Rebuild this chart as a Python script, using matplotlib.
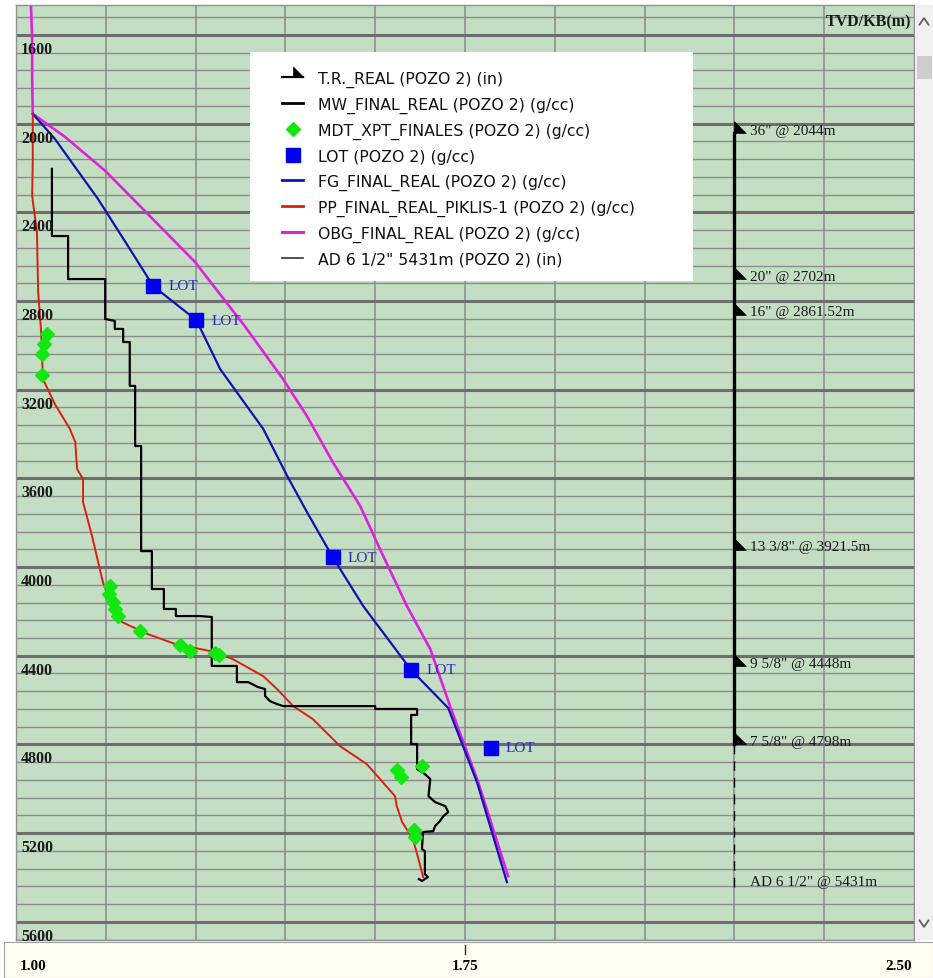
import numpy as np
import matplotlib.pyplot as plt
from matplotlib.lines import Line2D
from matplotlib.patches import Rectangle
from matplotlib.path import Path
import matplotlib.transforms as mtransforms

# ---- datos (densidad g/cc vs TVD m) ----
obg_val = [1.025, 1.027, 1.027, 1.028, 1.082, 1.149, 1.220, 1.299, 1.382, 1.446,
           1.486, 1.529, 1.575, 1.608, 1.653, 1.692, 1.725, 1.772, 1.822]
obg_tvd = [1465, 1618, 1798, 1956, 2060, 2213, 2407, 2624, 2913, 3152,
           3319, 3526, 3725, 3919, 4176, 4370, 4627, 4970, 5394]

fg_val = [1.028, 1.065, 1.137, 1.187, 1.229, 1.301, 1.311, 1.341, 1.413, 1.453,
          1.486, 1.529, 1.580, 1.660, 1.722, 1.770, 1.820]
fg_tvd = [1956, 2069, 2340, 2552, 2732, 2886, 2940, 3107, 3377, 3589,
          3752, 3955, 4176, 4464, 4636, 4970, 5421]

pp_val = [1.028, 1.028, 1.027, 1.035, 1.037, 1.042, 1.045, 1.065, 1.090, 1.099,
          1.102, 1.112, 1.112, 1.127, 1.145, 1.160, 1.177, 1.220, 1.266, 1.332,
          1.362, 1.413, 1.436, 1.463, 1.496, 1.541, 1.586, 1.608, 1.633, 1.636,
          1.645, 1.663, 1.671, 1.680]
pp_tvd = [1956, 2159, 2326, 2489, 2759, 2940, 3152, 3265, 3377, 3436,
          3558, 3603, 3707, 3860, 4067, 4176, 4248, 4302, 4347, 4383,
          4415, 4492, 4550, 4627, 4686, 4807, 4889, 4956, 5033, 5078,
          5150, 5227, 5304, 5398]

mw_val = [1.060, 1.060, 1.087, 1.087, 1.149, 1.149, 1.165, 1.165, 1.179, 1.179,
          1.190, 1.190, 1.199, 1.199, 1.209, 1.209, 1.227, 1.227, 1.247, 1.247,
          1.267, 1.267, 1.307, 1.327, 1.327, 1.369, 1.369, 1.388, 1.404, 1.416,
          1.416, 1.424, 1.436, 1.446, 1.600, 1.600, 1.670, 1.670, 1.660, 1.660,
          1.670, 1.670, 1.683, 1.692, 1.689, 1.700, 1.717, 1.722, 1.714, 1.708,
          1.700, 1.697, 1.680, 1.678, 1.683, 1.683, 1.688, 1.678, 1.673]
mw_tvd = [2204, 2507, 2507, 2701, 2701, 2881, 2890, 2926, 2926, 2985,
          2985, 3183, 3183, 3454, 3454, 3928, 3928, 4099, 4099, 4189,
          4189, 4221, 4221, 4225, 4446, 4446, 4519, 4519, 4541, 4550,
          4582, 4604, 4618, 4627, 4627, 4640, 4640, 4667, 4667, 4798,
          4798, 4911, 4934, 4956, 5033, 5060, 5078, 5105, 5123, 5146,
          5168, 5191, 5195, 5272, 5281, 5385, 5398, 5416, 5407]

mdt_val = [1.052, 1.047, 1.043, 1.043, 1.157, 1.155, 1.162, 1.165, 1.170, 1.207,
           1.274, 1.291, 1.332, 1.339, 1.636, 1.643, 1.678, 1.665, 1.666]
mdt_tvd = [2949, 2994, 3039, 3134, 4086, 4122, 4158, 4189, 4221, 4289,
           4352, 4379, 4388, 4397, 4916, 4947, 4898, 5186, 5218]

lot_val = [1.229, 1.301, 1.529, 1.660, 1.793]
lot_tvd = [2732, 2886, 3955, 4464, 4816]

shoe_tvd = [2044, 2702, 2861.52, 3921.5, 4448, 4798]
shoe_lbl = ['36" @ 2044m', '20" @ 2702m', '16" @ 2861.52m',
            '13 3/8" @ 3921.5m', '9 5/8" @ 4448m', '7 5/8" @ 4798m']
ad_tvd = 5431
ad_lbl = 'AD 6 1/2" @ 5431m'

depth_ticks = [1600, 2000, 2400, 2800, 3200, 3600, 4000, 4400, 4800, 5200, 5600]
x_labels = [1.00, 1.75, 2.50]

# ---- figura ----
W, H = 933, 979
fig = plt.figure(figsize=(W / 100, H / 100), dpi=100)
fig.patch.set_facecolor('white')

ax = fig.add_axes([16 / W, 1 - 941 / H, 898 / W, 935 / H])
ax.set_facecolor('#C4DEC4')
ax.set_xlim(1.0, 2.5)
ax.set_ylim(5682, 1465)

ax.set_xticks(np.arange(1.15, 2.40, 0.15))
ax.set_yticks(depth_ticks)
ax.set_yticks(np.arange(1520, 5682, 80), minor=True)
ax.tick_params(which='both', length=0, labelleft=False, labelbottom=False)
ax.grid(axis='x', color='#8a8a8a', lw=1.1)
ax.grid(axis='y', which='minor', color='#8c8c8c', lw=1.0)
ax.grid(axis='y', which='major', color='#6e6e6e', lw=2.2)
ax.set_axisbelow(True)
for s in ax.spines.values():
    s.set_color('#909090')
    s.set_linewidth(1)

c_fg = '#1212B4'
c_pp = '#D82010'
c_obg = '#DD22DD'
c_mdt = '#10E810'
c_lot = '#0000F0'

ax.plot(obg_val, obg_tvd, color=c_obg, lw=1.9)
ax.plot(fg_val, fg_tvd, color=c_fg, lw=1.6)
ax.plot(pp_val, pp_tvd, color=c_pp, lw=1.4)
ax.plot(mw_val, mw_tvd, color='black', lw=1.6)
ax.plot(mdt_val, mdt_tvd, ls='none', marker='D', ms=7.5, color=c_mdt, mec=c_mdt)
ax.plot(lot_val, lot_tvd, ls='none', marker='s', ms=9.5, color=c_lot, mec=c_lot)
for v, d in zip(lot_val, lot_tvd):
    ax.text(v + 0.025, d, 'LOT', color='#2828C0', fontsize=11,
            family='Liberation Serif', va='center', ha='left')

# casing / zapatas
x_tr = 2.2
shoe_mk = Path([(0, 0), (0, 1), (1, 0), (0, 0)])
ax.plot([x_tr, x_tr], [shoe_tvd[0], shoe_tvd[-1]], color='black', lw=2.4)
ax.plot([x_tr, x_tr], [shoe_tvd[-1], ad_tvd + 15], color='black', lw=1.0,
        dashes=(7, 5))
ax.plot([x_tr] * len(shoe_tvd), shoe_tvd, ls='none', marker=shoe_mk, ms=17,
        color='black', mew=0.5)
for d, t in zip(shoe_tvd, shoe_lbl):
    ax.text(x_tr + 0.026, d - 12, t, fontsize=11, family='Liberation Serif',
            color='#1a1a1a', va='center', ha='left')
ax.text(x_tr + 0.026, ad_tvd - 12, ad_lbl, fontsize=11, family='Liberation Serif',
        color='#1a1a1a', va='center', ha='left')

# etiquetas de profundidad dentro del track
ytr = mtransforms.blended_transform_factory(ax.transAxes, ax.transData)
for d in depth_ticks:
    ax.text(0.0056, d + 27, str(d), transform=ytr, fontsize=11.5,
            family='Liberation Serif', weight='bold', va='top', ha='left',
            color='#1a1a1a')
ax.text(0.997, 1537, 'TVD/KB(m)', transform=ytr, fontsize=11.5,
        family='Liberation Serif', weight='bold', va='center', ha='right',
        color='#1a1a1a')

# leyenda
ax.add_patch(Rectangle((0.2606, 0.7048), 0.4933, 0.2449, transform=ax.transAxes,
                       facecolor='white', edgecolor='none', zorder=4.5))
handles = [
    Line2D([], [], color='black', lw=1.6, marker=shoe_mk, ms=15, mew=0.5),
    Line2D([], [], color='black', lw=2),
    Line2D([], [], ls='none', marker='D', ms=7.5, color=c_mdt),
    Line2D([], [], ls='none', marker='s', ms=9.5, color=c_lot),
    Line2D([], [], color=c_fg, lw=2),
    Line2D([], [], color=c_pp, lw=2),
    Line2D([], [], color=c_obg, lw=2.2),
    Line2D([], [], color='#333333', lw=1.2),
]
labels = ['T.R._REAL (POZO 2) (in)',
          'MW_FINAL_REAL (POZO 2) (g/cc)',
          'MDT_XPT_FINALES (POZO 2) (g/cc)',
          'LOT (POZO 2) (g/cc)',
          'FG_FINAL_REAL (POZO 2) (g/cc)',
          'PP_FINAL_REAL_PIKLIS-1 (POZO 2) (g/cc)',
          'OBG_FINAL_REAL (POZO 2) (g/cc)',
          'AD 6 1/2" 5431m (POZO 2) (in)']
leg = ax.legend(handles, labels, loc='upper left', bbox_to_anchor=(0.2962, 0.9295),
                frameon=False, borderpad=0, borderaxespad=0, fontsize=11.3,
                labelspacing=0.62, handlelength=1.34, handletextpad=0.95,
                numpoints=1, labelcolor='#111111')
leg.set_zorder(5)

# eje inferior (escala)
strip = fig.add_axes([4 / W, 0, 929 / W, 36 / H])
strip.set_zorder(-1)
strip.set_facecolor('#FFFCF2')
strip.set_xticks([])
strip.set_yticks([])
for s in strip.spines.values():
    s.set_color('#a0a0a0')
xtr = ax.get_xaxis_transform()
al = ['left', 'center', 'right']
for v, a in zip(x_labels, al):
    ax.text(v + (0.006 if a == 'left' else (-0.003 if a == 'right' else 0)), -0.027,
            '%.2f' % v, transform=xtr, ha=a, va='center', fontsize=11,
            family='Liberation Serif', weight='bold', clip_on=False)
ax.plot([1.75, 1.75], [-0.005, -0.015], transform=xtr, color='#333333', lw=1,
        clip_on=False)

# barra de desplazamiento
sb = fig.add_axes([915 / W, 1 - 941 / H, 18 / W, 935 / H])
sb.set_facecolor('#F0F0F0')
sb.set_xlim(0, 1)
sb.set_ylim(0, 1)
sb.set_xticks([])
sb.set_yticks([])
for s in sb.spines.values():
    s.set_visible(False)
sb.add_patch(Rectangle((0.1, 0.921), 0.85, 0.024, facecolor='#CDCDCD', edgecolor='none'))
sb.plot([0.25, 0.5, 0.75], [0.979, 0.986, 0.979], color='#606060', lw=1.3)
sb.plot([0.25, 0.5, 0.75], [0.021, 0.014, 0.021], color='#606060', lw=1.3)

fig.savefig('out.png', dpi=100)
